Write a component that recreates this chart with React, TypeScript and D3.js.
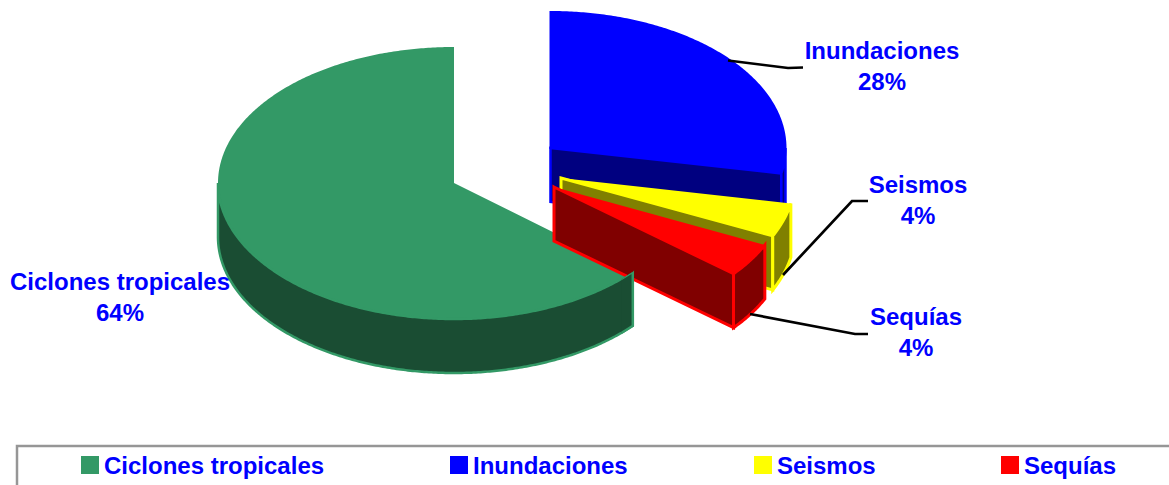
import React from "react";
import * as d3 from "d3";

const categories = ["Ciclones tropicales", "Inundaciones", "Seismos", "Sequías"];
const pieCategories = ["Inundaciones", "Seismos", "Sequías", "Ciclones tropicales"];
const pieValues = [28, 4, 4, 64];
const percentLabels = ["64%", "28%", "4%", "4%"];

const W = 1169;
const H = 485;
const RY = 136;
const DEPTH = 54;
const FONT = "'Liberation Sans', Arial, sans-serif";
const TEXT = "#0000ff";

type Style = { top: string; side: string; cx: number; cy: number; rx: number; trim: number; topStroke: number; edge: number };
const styles: Record<string, Style> = {
  "Ciclones tropicales": { top: "#339966", side: "#1a4d33", cx: 454, cy: 183, rx: 236, trim: 0.02, topStroke: 0, edge: 2.5 },
  Inundaciones: { top: "#0000ff", side: "#000080", cx: 550.5, cy: 148, rx: 235, trim: 0, topStroke: 2, edge: 2.5 },
  Seismos: { top: "#ffff00", side: "#808000", cx: 561, cy: 178, rx: 234, trim: 0, topStroke: 0, edge: 3 },
  "Sequías": { top: "#ff0000", side: "#800000", cx: 554, cy: 187, rx: 233, trim: 0, topStroke: 0, edge: 3 },
};

const labelPlacement: Record<string, { x: number; y: number }> = {
  "Ciclones tropicales": { x: 120, y: 290 },
  Inundaciones: { x: 882, y: 59 },
  Seismos: { x: 918, y: 193 },
  "Sequías": { x: 916, y: 325 },
};

const leaders: [number, number][][] = [
  [[728, 60.5], [788, 68], [803, 67.5]],
  [[783, 275], [852, 201], [868, 201]],
  [[750, 314], [855, 334], [868, 334]],
];

const legendX = [81, 450, 754, 1001];

const pie = d3.pie<number>().sort(null).value((d) => d);
const arcs = pie(pieValues);
const lineGen = d3.line<[number, number]>();

const pt = (s: Style, t: number, dy = 0): [number, number] => [
  s.cx + s.rx * Math.sin(t),
  s.cy - RY * Math.cos(t) + dy,
];
const sweep = (a: number, b: number) => {
  const n = Math.max(2, Math.ceil(Math.abs(b - a) / 0.01));
  return d3.range(n + 1).map((i) => a + ((b - a) * i) / n);
};

function Slice({ name, start, end }: { name: string; start: number; end: number }) {
  const s = styles[name];
  const from = start + s.trim;
  const topPts: [number, number][] = [[s.cx, s.cy], ...sweep(from, end).map((t) => pt(s, t))];
  const a = Math.max(from, Math.PI / 2);
  const b = Math.min(end, (3 * Math.PI) / 2);
  const wallPts: [number, number][] = [
    ...sweep(a, b).map((t) => pt(s, t)),
    ...sweep(b, a).map((t) => pt(s, t, DEPTH)),
  ];
  const endVisible = end < Math.PI;
  const facePts: [number, number][] = [
    [s.cx, s.cy],
    pt(s, end),
    pt(s, end, DEPTH),
    [s.cx, s.cy + DEPTH],
  ];
  return (
    <g strokeLinejoin="miter">
      <path d={lineGen(topPts) + "Z"} fill={s.top} stroke={s.topStroke ? s.top : "none"} strokeWidth={s.topStroke} />
      {endVisible && (
        <path d={lineGen(facePts) + "Z"} fill={s.side} stroke={s.top} strokeWidth={s.edge} />
      )}
      <path d={lineGen(wallPts) + "Z"} fill={s.side} stroke={s.top} strokeWidth={s.edge} />
    </g>
  );
}

export default function App() {
  const slices = arcs.map((a, i) => ({ name: pieCategories[i], start: a.startAngle, end: a.endAngle }));
  const green = slices[3];
  const others = slices.slice(0, 3);
  const gs = styles[green.name];
  const tip = pt(gs, green.start + gs.trim);
  const clipPts: [number, number][] = [
    tip,
    [tip[0] - 11, tip[1] + 7],
    [tip[0] - 11, tip[1] + 70],
    [tip[0] + 6, tip[1] + 70],
    [tip[0] + 6, tip[1] - 6],
  ];
  return (
    <svg
      width={W}
      height={H}
      viewBox={`0 0 ${W} ${H}`}
      style={{ position: "absolute", left: 0, top: 0, display: "block", background: "#fff" }}
    >
      <defs>
        <clipPath id="tipClip">
          <path d={lineGen(clipPts) + "Z"} />
        </clipPath>
      </defs>
      <Slice {...green} />
      {others.map((d) => (
        <Slice key={d.name} {...d} />
      ))}
      <g clipPath="url(#tipClip)">
        <Slice {...green} />
      </g>

      {leaders.map((l, i) => (
        <path key={i} d={lineGen(l) ?? ""} fill="none" stroke="#000" strokeWidth={2.7} />
      ))}

      <g fontFamily={FONT} fontWeight={700} fontSize={24} fill={TEXT} textAnchor="middle">
        {categories.map((c, i) => (
          <g key={c}>
            <text x={labelPlacement[c].x} y={labelPlacement[c].y}>{c}</text>
            <text x={labelPlacement[c].x} y={labelPlacement[c].y + 31}>{percentLabels[i]}</text>
          </g>
        ))}
      </g>

      <rect x={17} y={446} width={W + 20} height={100} fill="none" stroke="#969696" strokeWidth={2.5} />
      <g fontFamily={FONT} fontWeight={700} fontSize={24} fill={TEXT}>
        {categories.map((c, i) => (
          <g key={c}>
            <rect x={legendX[i]} y={456} width={18} height={18} fill={styles[c].top} />
            <text x={legendX[i] + 23} y={474}>{c}</text>
          </g>
        ))}
      </g>
    </svg>
  );
}
